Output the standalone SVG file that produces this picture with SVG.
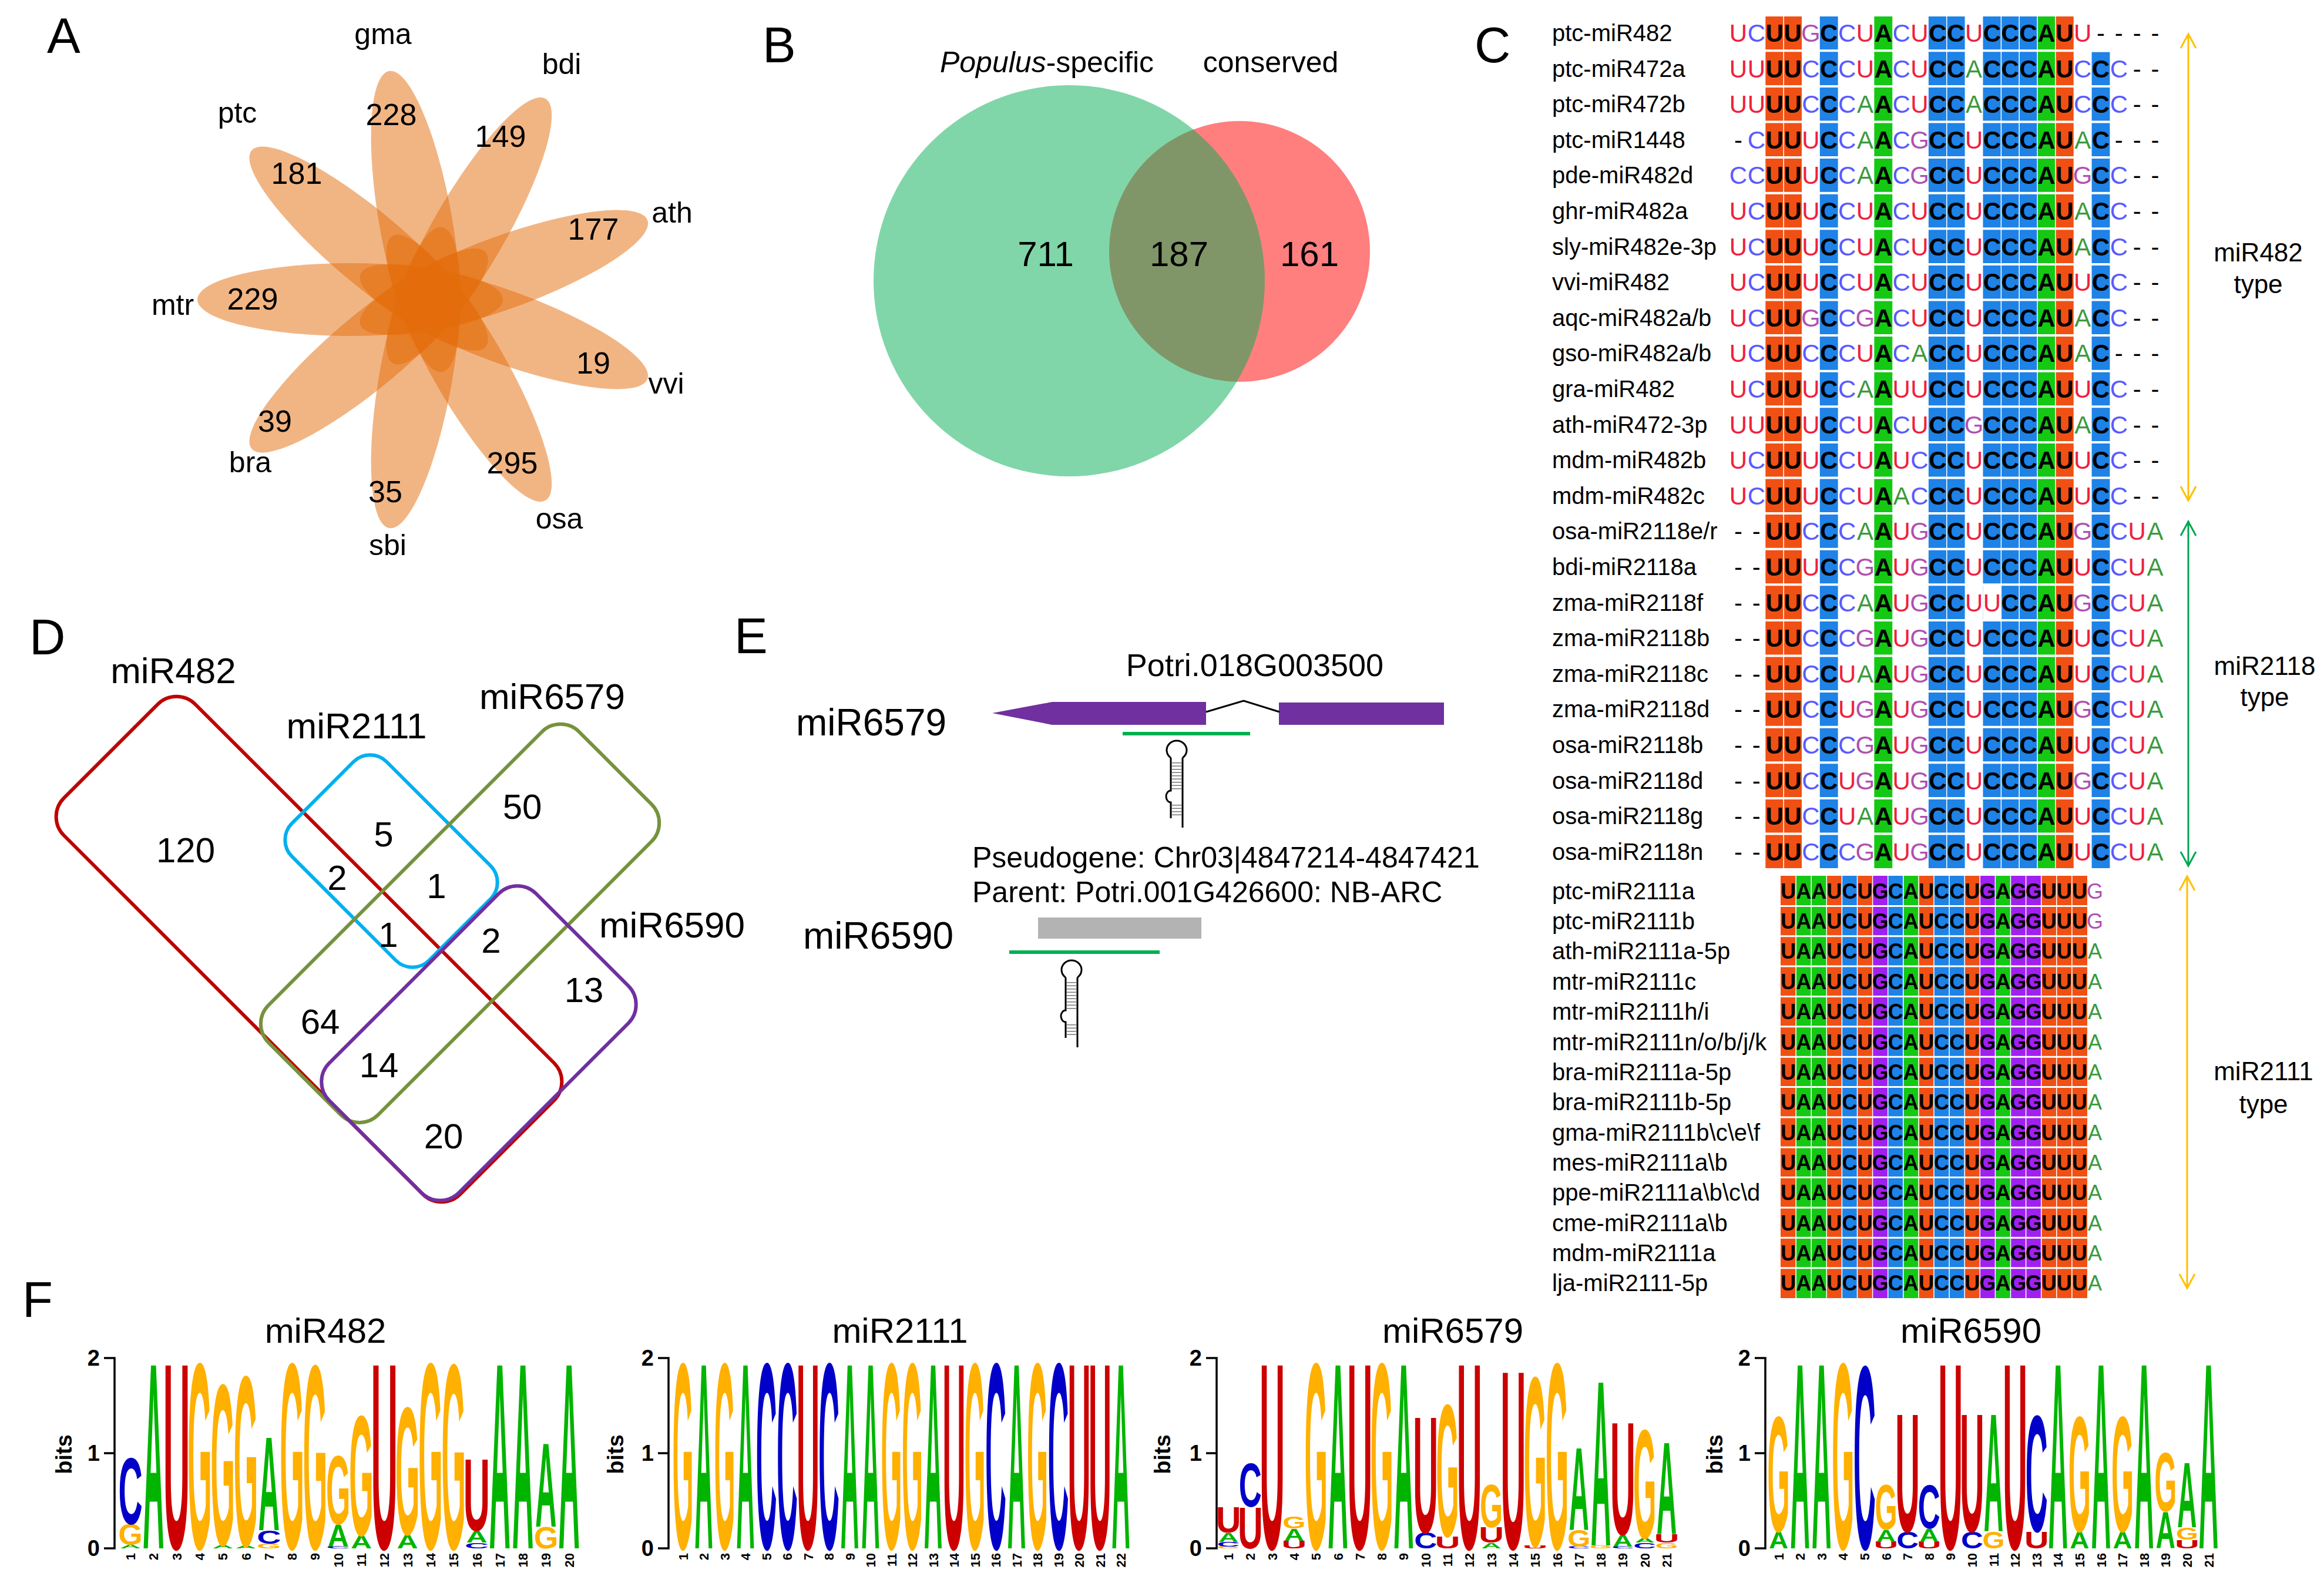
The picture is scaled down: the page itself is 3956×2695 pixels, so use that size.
<svg xmlns="http://www.w3.org/2000/svg" width="3956" height="2695" viewBox="0 0 3956 2695">
<style>
text{font-family:"Liberation Sans",Arial,sans-serif;fill:#000}
.pl{font-size:85px}
.mc{text-anchor:middle;dominant-baseline:central}
.f52{font-size:52px}.f50{font-size:50px}.f60{font-size:60px}.f62{font-size:62px}.f64{font-size:64px}.f54{font-size:54px}.f44{font-size:44px}
.lab{font-size:40px;dominant-baseline:central}
.sq{font-family:"DejaVu Sans Mono","Liberation Mono",monospace;font-size:42px;text-anchor:middle;dominant-baseline:central}
.sq2{font-family:"DejaVu Sans Mono","Liberation Mono",monospace;font-size:36px;text-anchor:middle;dominant-baseline:central}
.K{fill:#000;font-weight:bold}.u{fill:#f0203c}.c{fill:#5a5aff}.a{fill:#3c9a3c}.g{fill:#b050b0}.d{fill:#000}
.lg text{font-weight:bold;font-size:100px;text-anchor:middle}
.LA{fill:#00b400}.LC{fill:#0000c8}.LG{fill:#ffb000}.LU{fill:#cc0000}
.ax{font-size:38px;font-weight:bold;text-anchor:end;dominant-baseline:central}
.bt{font-size:38px;font-weight:bold;text-anchor:middle;dominant-baseline:central}
.pn{font-size:22px;font-weight:bold;text-anchor:end}
</style>
<defs>
<g id="hp" fill="none" stroke="#000" stroke-width="3">
<path d="M-10,12A17,16 0 1 1 10,12"/>
<path d="M-10,12V68a8,10 0 0 0 0,20V115"/>
<path d="M10,12V131"/>
<path d="M0,20V66M0,92V112" stroke="#777" stroke-width="16" stroke-dasharray="1.5 4"/>
</g>
</defs>
<rect width="3956" height="2695" fill="#fff"/>

<g id="panelA">
<text class="pl" x="80" y="90">A</text>
<g id="petals" transform="translate(731,510)" fill="#E46C0A" fill-opacity="0.5">
<ellipse cx="135" cy="0" rx="260" ry="62" transform="rotate(180)"/>
<ellipse cx="135" cy="0" rx="260" ry="62" transform="rotate(220)"/>
<ellipse cx="135" cy="0" rx="260" ry="62" transform="rotate(260)"/>
<ellipse cx="135" cy="0" rx="260" ry="62" transform="rotate(300)"/>
<ellipse cx="135" cy="0" rx="260" ry="62" transform="rotate(340)"/>
<ellipse cx="135" cy="0" rx="260" ry="62" transform="rotate(20)"/>
<ellipse cx="135" cy="0" rx="260" ry="62" transform="rotate(60)"/>
<ellipse cx="135" cy="0" rx="260" ry="62" transform="rotate(100)"/>
<ellipse cx="135" cy="0" rx="260" ry="62" transform="rotate(140)"/>
</g>
<g class="mc f52">
<text x="505" y="295">181</text><text x="666" y="195">228</text><text x="852" y="232">149</text>
<text x="1010" y="390">177</text><text x="1010" y="618">19</text><text x="872" y="788">295</text>
<text x="656" y="837">35</text><text x="468" y="717">39</text><text x="430" y="509">229</text>
</g>
<g class="mc f50">
<text x="652" y="58">gma</text><text x="956" y="109">bdi</text><text x="404" y="192">ptc</text>
<text x="1144" y="362">ath</text><text x="294" y="519">mtr</text><text x="1134" y="653">vvi</text>
<text x="426" y="787">bra</text><text x="952" y="883">osa</text><text x="660" y="928">sbi</text>
</g>
</g>

<g id="panelB">
<text class="pl" x="1298" y="106">B</text>
<circle cx="2110" cy="428" r="222" fill="#FF0000" fill-opacity="0.5"/>
<circle cx="1820" cy="478" r="333" fill="#01AD51" fill-opacity="0.5"/>
<text class="mc f50" x="1782" y="106"><tspan font-style="italic">Populus</tspan>-specific</text>
<text class="mc f50" x="2163" y="106">conserved</text>
<g class="mc f60"><text x="1780" y="432">711</text><text x="2007" y="432">187</text><text x="2229" y="432">161</text></g>
</g>

<g id="panelC">
<text class="pl" x="2510" y="106">C</text>
<g id="boxes1">
<rect x="3005.3" y="28" width="61.7" height="1450" fill="#F05014"/>
<rect x="3498.9" y="28" width="30.85" height="1450" fill="#F05014"/>
<rect x="3097.8" y="28" width="30.85" height="1450" fill="#1E82E6"/>
<rect x="3282.9" y="28" width="61.7" height="1450" fill="#1E82E6"/>
<rect x="3375.5" y="28" width="92.55" height="1450" fill="#1E82E6"/>
<rect x="3560.6" y="88.6" width="30.85" height="1389.4" fill="#1E82E6"/>
<rect x="3190.4" y="28" width="30.85" height="1450" fill="#14C814"/>
<rect x="3468" y="28" width="30.85" height="1450" fill="#14C814"/>
<rect x="3375.5" y="995.3" width="30.85" height="60.6" fill="#fff"/>
<path fill="none" stroke="#fff" stroke-width="4" d="M2995,86.3H3600M2995,146.9H3600M2995,207.5H3600M2995,268.1H3600M2995,328.7H3600M2995,389.3H3600M2995,449.9H3600M2995,510.5H3600M2995,571.1H3600M2995,631.7H3600M2995,692.3H3600M2995,752.9H3600M2995,813.5H3600M2995,874.1H3600M2995,934.7H3600M2995,995.3H3600M2995,1055.9H3600M2995,1116.5H3600M2995,1177.1H3600M2995,1237.7H3600M2995,1298.3H3600M2995,1358.9H3600M2995,1419.5H3600"/>
<path fill="none" stroke="#fff" stroke-width="1.5" d="M3036.15,28V1478M3313.8,28V1478M3406.4,28V1478M3437.2,28V1478M3468.05,28V1478M3498.9,28V1478"/>
</g>
<g id="boxes2">
<rect x="3031" y="1491" width="26.1" height="719" fill="#F05014"/>
<rect x="3057.1" y="1491" width="52.2" height="719" fill="#14C814"/>
<rect x="3109.3" y="1491" width="26.1" height="719" fill="#F05014"/>
<rect x="3135.4" y="1491" width="26.1" height="719" fill="#1E82E6"/>
<rect x="3161.5" y="1491" width="26.1" height="719" fill="#F05014"/>
<rect x="3187.6" y="1491" width="26.1" height="719" fill="#A020F0"/>
<rect x="3213.7" y="1491" width="26.1" height="719" fill="#1E82E6"/>
<rect x="3239.8" y="1491" width="26.1" height="719" fill="#14C814"/>
<rect x="3265.9" y="1491" width="26.1" height="719" fill="#F05014"/>
<rect x="3292" y="1491" width="52.2" height="719" fill="#1E82E6"/>
<rect x="3344.2" y="1491" width="26.1" height="719" fill="#F05014"/>
<rect x="3370.3" y="1491" width="26.1" height="719" fill="#A020F0"/>
<rect x="3396.4" y="1491" width="26.1" height="719" fill="#14C814"/>
<rect x="3422.5" y="1491" width="52.2" height="719" fill="#A020F0"/>
<rect x="3474.7" y="1491" width="78.3" height="719" fill="#F05014"/>
<path fill="none" stroke="#fff" stroke-width="3" d="M3028,1542.4H3556M3028,1593.7H3556M3028,1645.1H3556M3028,1696.4H3556M3028,1747.8H3556M3028,1799.2H3556M3028,1850.5H3556M3028,1901.9H3556M3028,1953.2H3556M3028,2004.6H3556M3028,2056H3556M3028,2107.3H3556M3028,2158.7H3556"/>
<path fill="none" stroke="#fff" stroke-width="1.5" d="M3057.1,1491V2210M3083.2,1491V2210M3109.3,1491V2210M3135.4,1491V2210M3161.5,1491V2210M3187.6,1491V2210M3213.7,1491V2210M3239.8,1491V2210M3265.9,1491V2210M3292,1491V2210M3318.1,1491V2210M3344.2,1491V2210M3370.3,1491V2210M3396.4,1491V2210M3422.5,1491V2210M3448.6,1491V2210M3474.7,1491V2210M3500.8,1491V2210M3526.9,1491V2210"/>
</g>
<g id="labels" class="lab">
<text x="2642" y="56">ptc-miR482</text><text x="2642" y="116.6">ptc-miR472a</text><text x="2642" y="177.2">ptc-miR472b</text><text x="2642" y="237.8">ptc-miR1448</text>
<text x="2642" y="298.4">pde-miR482d</text><text x="2642" y="359">ghr-miR482a</text><text x="2642" y="419.6">sly-miR482e-3p</text><text x="2642" y="480.2">vvi-miR482</text>
<text x="2642" y="540.8">aqc-miR482a/b</text><text x="2642" y="601.4">gso-miR482a/b</text><text x="2642" y="662">gra-miR482</text><text x="2642" y="722.6">ath-miR472-3p</text>
<text x="2642" y="783.2">mdm-miR482b</text><text x="2642" y="843.8">mdm-miR482c</text><text x="2642" y="904.4">osa-miR2118e/r</text><text x="2642" y="965">bdi-miR2118a</text>
<text x="2642" y="1025.6">zma-miR2118f</text><text x="2642" y="1086.2">zma-miR2118b</text><text x="2642" y="1146.8">zma-miR2118c</text><text x="2642" y="1207.4">zma-miR2118d</text>
<text x="2642" y="1268">osa-miR2118b</text><text x="2642" y="1328.6">osa-miR2118d</text><text x="2642" y="1389.2">osa-miR2118g</text><text x="2642" y="1449.8">osa-miR2118n</text>
<text x="2642" y="1516.7">ptc-miR2111a</text><text x="2642" y="1568.1">ptc-miR2111b</text><text x="2642" y="1619.4">ath-miR2111a-5p</text><text x="2642" y="1670.8">mtr-miR2111c</text>
<text x="2642" y="1722.1">mtr-miR2111h/i</text><text x="2642" y="1773.5">mtr-miR2111n/o/b/j/k</text><text x="2642" y="1824.9">bra-miR2111a-5p</text><text x="2642" y="1876.2">bra-miR2111b-5p</text>
<text x="2642" y="1927.6">gma-miR2111b\c\e\f</text><text x="2642" y="1978.9">mes-miR2111a\b</text><text x="2642" y="2030.3">ppe-miR2111a\b\c\d</text><text x="2642" y="2081.7">cme-miR2111a\b</text>
<text x="2642" y="2133">mdm-miR2111a</text><text x="2642" y="2184.4">lja-miR2111-5p</text>
</g>
<g id="seqs1" class="sq">
<text x="2959 2989.85 3020.7 3051.55 3082.4 3113.25 3144.1 3174.95 3205.8 3236.65 3267.5 3298.35 3329.2 3360.05 3390.9 3421.75 3452.6 3483.45 3514.3 3545.15 3576 3606.85 3637.7 3668.55" y="56"><tspan class="u">U</tspan><tspan class="c">C</tspan><tspan class="K">UU</tspan><tspan class="g">G</tspan><tspan class="K">C</tspan><tspan class="c">C</tspan><tspan class="u">U</tspan><tspan class="K">A</tspan><tspan class="c">C</tspan><tspan class="u">U</tspan><tspan class="K">CC</tspan><tspan class="u">U</tspan><tspan class="K">CCCAU</tspan><tspan class="u">U</tspan><tspan class="d">----</tspan></text>
<text x="2959 2989.85 3020.7 3051.55 3082.4 3113.25 3144.1 3174.95 3205.8 3236.65 3267.5 3298.35 3329.2 3360.05 3390.9 3421.75 3452.6 3483.45 3514.3 3545.15 3576 3606.85 3637.7 3668.55" y="116.6"><tspan class="u">UU</tspan><tspan class="K">UU</tspan><tspan class="c">C</tspan><tspan class="K">C</tspan><tspan class="c">C</tspan><tspan class="u">U</tspan><tspan class="K">A</tspan><tspan class="c">C</tspan><tspan class="u">U</tspan><tspan class="K">CC</tspan><tspan class="a">A</tspan><tspan class="K">CCCAU</tspan><tspan class="c">C</tspan><tspan class="K">C</tspan><tspan class="c">C</tspan><tspan class="d">--</tspan></text>
<text x="2959 2989.85 3020.7 3051.55 3082.4 3113.25 3144.1 3174.95 3205.8 3236.65 3267.5 3298.35 3329.2 3360.05 3390.9 3421.75 3452.6 3483.45 3514.3 3545.15 3576 3606.85 3637.7 3668.55" y="177.2"><tspan class="u">UU</tspan><tspan class="K">UU</tspan><tspan class="c">C</tspan><tspan class="K">C</tspan><tspan class="c">C</tspan><tspan class="a">A</tspan><tspan class="K">A</tspan><tspan class="c">C</tspan><tspan class="u">U</tspan><tspan class="K">CC</tspan><tspan class="a">A</tspan><tspan class="K">CCCAU</tspan><tspan class="c">C</tspan><tspan class="K">C</tspan><tspan class="c">C</tspan><tspan class="d">--</tspan></text>
<text x="2959 2989.85 3020.7 3051.55 3082.4 3113.25 3144.1 3174.95 3205.8 3236.65 3267.5 3298.35 3329.2 3360.05 3390.9 3421.75 3452.6 3483.45 3514.3 3545.15 3576 3606.85 3637.7 3668.55" y="237.8"><tspan class="d">-</tspan><tspan class="c">C</tspan><tspan class="K">UU</tspan><tspan class="u">U</tspan><tspan class="K">C</tspan><tspan class="c">C</tspan><tspan class="a">A</tspan><tspan class="K">A</tspan><tspan class="c">C</tspan><tspan class="g">G</tspan><tspan class="K">CC</tspan><tspan class="u">U</tspan><tspan class="K">CCCAU</tspan><tspan class="a">A</tspan><tspan class="K">C</tspan><tspan class="d">---</tspan></text>
<text x="2959 2989.85 3020.7 3051.55 3082.4 3113.25 3144.1 3174.95 3205.8 3236.65 3267.5 3298.35 3329.2 3360.05 3390.9 3421.75 3452.6 3483.45 3514.3 3545.15 3576 3606.85 3637.7 3668.55" y="298.4"><tspan class="c">CC</tspan><tspan class="K">UU</tspan><tspan class="u">U</tspan><tspan class="K">C</tspan><tspan class="c">C</tspan><tspan class="a">A</tspan><tspan class="K">A</tspan><tspan class="c">C</tspan><tspan class="g">G</tspan><tspan class="K">CC</tspan><tspan class="u">U</tspan><tspan class="K">CCCAU</tspan><tspan class="g">G</tspan><tspan class="K">C</tspan><tspan class="c">C</tspan><tspan class="d">--</tspan></text>
<text x="2959 2989.85 3020.7 3051.55 3082.4 3113.25 3144.1 3174.95 3205.8 3236.65 3267.5 3298.35 3329.2 3360.05 3390.9 3421.75 3452.6 3483.45 3514.3 3545.15 3576 3606.85 3637.7 3668.55" y="359"><tspan class="u">U</tspan><tspan class="c">C</tspan><tspan class="K">UU</tspan><tspan class="u">U</tspan><tspan class="K">C</tspan><tspan class="c">C</tspan><tspan class="u">U</tspan><tspan class="K">A</tspan><tspan class="c">C</tspan><tspan class="u">U</tspan><tspan class="K">CC</tspan><tspan class="u">U</tspan><tspan class="K">CCCAU</tspan><tspan class="a">A</tspan><tspan class="K">C</tspan><tspan class="c">C</tspan><tspan class="d">--</tspan></text>
<text x="2959 2989.85 3020.7 3051.55 3082.4 3113.25 3144.1 3174.95 3205.8 3236.65 3267.5 3298.35 3329.2 3360.05 3390.9 3421.75 3452.6 3483.45 3514.3 3545.15 3576 3606.85 3637.7 3668.55" y="419.6"><tspan class="u">U</tspan><tspan class="c">C</tspan><tspan class="K">UU</tspan><tspan class="u">U</tspan><tspan class="K">C</tspan><tspan class="c">C</tspan><tspan class="u">U</tspan><tspan class="K">A</tspan><tspan class="c">C</tspan><tspan class="u">U</tspan><tspan class="K">CC</tspan><tspan class="u">U</tspan><tspan class="K">CCCAU</tspan><tspan class="a">A</tspan><tspan class="K">C</tspan><tspan class="c">C</tspan><tspan class="d">--</tspan></text>
<text x="2959 2989.85 3020.7 3051.55 3082.4 3113.25 3144.1 3174.95 3205.8 3236.65 3267.5 3298.35 3329.2 3360.05 3390.9 3421.75 3452.6 3483.45 3514.3 3545.15 3576 3606.85 3637.7 3668.55" y="480.2"><tspan class="u">U</tspan><tspan class="c">C</tspan><tspan class="K">UU</tspan><tspan class="u">U</tspan><tspan class="K">C</tspan><tspan class="c">C</tspan><tspan class="u">U</tspan><tspan class="K">A</tspan><tspan class="c">C</tspan><tspan class="u">U</tspan><tspan class="K">CC</tspan><tspan class="u">U</tspan><tspan class="K">CCCAU</tspan><tspan class="u">U</tspan><tspan class="K">C</tspan><tspan class="c">C</tspan><tspan class="d">--</tspan></text>
<text x="2959 2989.85 3020.7 3051.55 3082.4 3113.25 3144.1 3174.95 3205.8 3236.65 3267.5 3298.35 3329.2 3360.05 3390.9 3421.75 3452.6 3483.45 3514.3 3545.15 3576 3606.85 3637.7 3668.55" y="540.8"><tspan class="u">U</tspan><tspan class="c">C</tspan><tspan class="K">UU</tspan><tspan class="g">G</tspan><tspan class="K">C</tspan><tspan class="c">C</tspan><tspan class="g">G</tspan><tspan class="K">A</tspan><tspan class="c">C</tspan><tspan class="u">U</tspan><tspan class="K">CC</tspan><tspan class="u">U</tspan><tspan class="K">CCCAU</tspan><tspan class="a">A</tspan><tspan class="K">C</tspan><tspan class="c">C</tspan><tspan class="d">--</tspan></text>
<text x="2959 2989.85 3020.7 3051.55 3082.4 3113.25 3144.1 3174.95 3205.8 3236.65 3267.5 3298.35 3329.2 3360.05 3390.9 3421.75 3452.6 3483.45 3514.3 3545.15 3576 3606.85 3637.7 3668.55" y="601.4"><tspan class="u">U</tspan><tspan class="c">C</tspan><tspan class="K">UU</tspan><tspan class="c">C</tspan><tspan class="K">C</tspan><tspan class="c">C</tspan><tspan class="u">U</tspan><tspan class="K">A</tspan><tspan class="c">C</tspan><tspan class="a">A</tspan><tspan class="K">CC</tspan><tspan class="u">U</tspan><tspan class="K">CCCAU</tspan><tspan class="a">A</tspan><tspan class="K">C</tspan><tspan class="d">---</tspan></text>
<text x="2959 2989.85 3020.7 3051.55 3082.4 3113.25 3144.1 3174.95 3205.8 3236.65 3267.5 3298.35 3329.2 3360.05 3390.9 3421.75 3452.6 3483.45 3514.3 3545.15 3576 3606.85 3637.7 3668.55" y="662"><tspan class="u">U</tspan><tspan class="c">C</tspan><tspan class="K">UU</tspan><tspan class="u">U</tspan><tspan class="K">C</tspan><tspan class="c">C</tspan><tspan class="a">A</tspan><tspan class="K">A</tspan><tspan class="u">UU</tspan><tspan class="K">CC</tspan><tspan class="u">U</tspan><tspan class="K">CCCAU</tspan><tspan class="u">U</tspan><tspan class="K">C</tspan><tspan class="c">C</tspan><tspan class="d">--</tspan></text>
<text x="2959 2989.85 3020.7 3051.55 3082.4 3113.25 3144.1 3174.95 3205.8 3236.65 3267.5 3298.35 3329.2 3360.05 3390.9 3421.75 3452.6 3483.45 3514.3 3545.15 3576 3606.85 3637.7 3668.55" y="722.6"><tspan class="u">UU</tspan><tspan class="K">UU</tspan><tspan class="u">U</tspan><tspan class="K">C</tspan><tspan class="c">C</tspan><tspan class="u">U</tspan><tspan class="K">A</tspan><tspan class="c">C</tspan><tspan class="u">U</tspan><tspan class="K">CC</tspan><tspan class="g">G</tspan><tspan class="K">CCCAU</tspan><tspan class="a">A</tspan><tspan class="K">C</tspan><tspan class="c">C</tspan><tspan class="d">--</tspan></text>
<text x="2959 2989.85 3020.7 3051.55 3082.4 3113.25 3144.1 3174.95 3205.8 3236.65 3267.5 3298.35 3329.2 3360.05 3390.9 3421.75 3452.6 3483.45 3514.3 3545.15 3576 3606.85 3637.7 3668.55" y="783.2"><tspan class="u">U</tspan><tspan class="c">C</tspan><tspan class="K">UU</tspan><tspan class="u">U</tspan><tspan class="K">C</tspan><tspan class="c">C</tspan><tspan class="u">U</tspan><tspan class="K">A</tspan><tspan class="u">U</tspan><tspan class="c">C</tspan><tspan class="K">CC</tspan><tspan class="u">U</tspan><tspan class="K">CCCAU</tspan><tspan class="u">U</tspan><tspan class="K">C</tspan><tspan class="c">C</tspan><tspan class="d">--</tspan></text>
<text x="2959 2989.85 3020.7 3051.55 3082.4 3113.25 3144.1 3174.95 3205.8 3236.65 3267.5 3298.35 3329.2 3360.05 3390.9 3421.75 3452.6 3483.45 3514.3 3545.15 3576 3606.85 3637.7 3668.55" y="843.8"><tspan class="u">U</tspan><tspan class="c">C</tspan><tspan class="K">UU</tspan><tspan class="u">U</tspan><tspan class="K">C</tspan><tspan class="c">C</tspan><tspan class="u">U</tspan><tspan class="K">A</tspan><tspan class="a">A</tspan><tspan class="c">C</tspan><tspan class="K">CC</tspan><tspan class="u">U</tspan><tspan class="K">CCCAU</tspan><tspan class="u">U</tspan><tspan class="K">C</tspan><tspan class="c">C</tspan><tspan class="d">--</tspan></text>
<text x="2959 2989.85 3020.7 3051.55 3082.4 3113.25 3144.1 3174.95 3205.8 3236.65 3267.5 3298.35 3329.2 3360.05 3390.9 3421.75 3452.6 3483.45 3514.3 3545.15 3576 3606.85 3637.7 3668.55" y="904.4"><tspan class="d">--</tspan><tspan class="K">UU</tspan><tspan class="c">C</tspan><tspan class="K">C</tspan><tspan class="c">C</tspan><tspan class="a">A</tspan><tspan class="K">A</tspan><tspan class="u">U</tspan><tspan class="g">G</tspan><tspan class="K">CC</tspan><tspan class="u">U</tspan><tspan class="K">CCCAU</tspan><tspan class="g">G</tspan><tspan class="K">C</tspan><tspan class="c">C</tspan><tspan class="u">U</tspan><tspan class="a">A</tspan></text>
<text x="2959 2989.85 3020.7 3051.55 3082.4 3113.25 3144.1 3174.95 3205.8 3236.65 3267.5 3298.35 3329.2 3360.05 3390.9 3421.75 3452.6 3483.45 3514.3 3545.15 3576 3606.85 3637.7 3668.55" y="965"><tspan class="d">--</tspan><tspan class="K">UU</tspan><tspan class="u">U</tspan><tspan class="K">C</tspan><tspan class="c">C</tspan><tspan class="g">G</tspan><tspan class="K">A</tspan><tspan class="u">U</tspan><tspan class="g">G</tspan><tspan class="K">CC</tspan><tspan class="u">U</tspan><tspan class="K">CCCAU</tspan><tspan class="u">U</tspan><tspan class="K">C</tspan><tspan class="c">C</tspan><tspan class="u">U</tspan><tspan class="a">A</tspan></text>
<text x="2959 2989.85 3020.7 3051.55 3082.4 3113.25 3144.1 3174.95 3205.8 3236.65 3267.5 3298.35 3329.2 3360.05 3390.9 3421.75 3452.6 3483.45 3514.3 3545.15 3576 3606.85 3637.7 3668.55" y="1025.6"><tspan class="d">--</tspan><tspan class="K">UU</tspan><tspan class="c">C</tspan><tspan class="K">C</tspan><tspan class="c">C</tspan><tspan class="a">A</tspan><tspan class="K">A</tspan><tspan class="u">U</tspan><tspan class="g">G</tspan><tspan class="K">CC</tspan><tspan class="u">UU</tspan><tspan class="K">CCAU</tspan><tspan class="g">G</tspan><tspan class="K">C</tspan><tspan class="c">C</tspan><tspan class="u">U</tspan><tspan class="a">A</tspan></text>
<text x="2959 2989.85 3020.7 3051.55 3082.4 3113.25 3144.1 3174.95 3205.8 3236.65 3267.5 3298.35 3329.2 3360.05 3390.9 3421.75 3452.6 3483.45 3514.3 3545.15 3576 3606.85 3637.7 3668.55" y="1086.2"><tspan class="d">--</tspan><tspan class="K">UU</tspan><tspan class="c">C</tspan><tspan class="K">C</tspan><tspan class="c">C</tspan><tspan class="g">G</tspan><tspan class="K">A</tspan><tspan class="u">U</tspan><tspan class="g">G</tspan><tspan class="K">CC</tspan><tspan class="u">U</tspan><tspan class="K">CCCAU</tspan><tspan class="u">U</tspan><tspan class="K">C</tspan><tspan class="c">C</tspan><tspan class="u">U</tspan><tspan class="a">A</tspan></text>
<text x="2959 2989.85 3020.7 3051.55 3082.4 3113.25 3144.1 3174.95 3205.8 3236.65 3267.5 3298.35 3329.2 3360.05 3390.9 3421.75 3452.6 3483.45 3514.3 3545.15 3576 3606.85 3637.7 3668.55" y="1146.8"><tspan class="d">--</tspan><tspan class="K">UU</tspan><tspan class="c">C</tspan><tspan class="K">C</tspan><tspan class="u">U</tspan><tspan class="a">A</tspan><tspan class="K">A</tspan><tspan class="u">U</tspan><tspan class="g">G</tspan><tspan class="K">CC</tspan><tspan class="u">U</tspan><tspan class="K">CCCAU</tspan><tspan class="u">U</tspan><tspan class="K">C</tspan><tspan class="c">C</tspan><tspan class="u">U</tspan><tspan class="a">A</tspan></text>
<text x="2959 2989.85 3020.7 3051.55 3082.4 3113.25 3144.1 3174.95 3205.8 3236.65 3267.5 3298.35 3329.2 3360.05 3390.9 3421.75 3452.6 3483.45 3514.3 3545.15 3576 3606.85 3637.7 3668.55" y="1207.4"><tspan class="d">--</tspan><tspan class="K">UU</tspan><tspan class="c">C</tspan><tspan class="K">C</tspan><tspan class="u">U</tspan><tspan class="g">G</tspan><tspan class="K">A</tspan><tspan class="u">U</tspan><tspan class="g">G</tspan><tspan class="K">CC</tspan><tspan class="u">U</tspan><tspan class="K">CCCAU</tspan><tspan class="g">G</tspan><tspan class="K">C</tspan><tspan class="c">C</tspan><tspan class="u">U</tspan><tspan class="a">A</tspan></text>
<text x="2959 2989.85 3020.7 3051.55 3082.4 3113.25 3144.1 3174.95 3205.8 3236.65 3267.5 3298.35 3329.2 3360.05 3390.9 3421.75 3452.6 3483.45 3514.3 3545.15 3576 3606.85 3637.7 3668.55" y="1268"><tspan class="d">--</tspan><tspan class="K">UU</tspan><tspan class="c">C</tspan><tspan class="K">C</tspan><tspan class="c">C</tspan><tspan class="g">G</tspan><tspan class="K">A</tspan><tspan class="u">U</tspan><tspan class="g">G</tspan><tspan class="K">CC</tspan><tspan class="u">U</tspan><tspan class="K">CCCAU</tspan><tspan class="u">U</tspan><tspan class="K">C</tspan><tspan class="c">C</tspan><tspan class="u">U</tspan><tspan class="a">A</tspan></text>
<text x="2959 2989.85 3020.7 3051.55 3082.4 3113.25 3144.1 3174.95 3205.8 3236.65 3267.5 3298.35 3329.2 3360.05 3390.9 3421.75 3452.6 3483.45 3514.3 3545.15 3576 3606.85 3637.7 3668.55" y="1328.6"><tspan class="d">--</tspan><tspan class="K">UU</tspan><tspan class="c">C</tspan><tspan class="K">C</tspan><tspan class="u">U</tspan><tspan class="g">G</tspan><tspan class="K">A</tspan><tspan class="u">U</tspan><tspan class="g">G</tspan><tspan class="K">CC</tspan><tspan class="u">U</tspan><tspan class="K">CCCAU</tspan><tspan class="g">G</tspan><tspan class="K">C</tspan><tspan class="c">C</tspan><tspan class="u">U</tspan><tspan class="a">A</tspan></text>
<text x="2959 2989.85 3020.7 3051.55 3082.4 3113.25 3144.1 3174.95 3205.8 3236.65 3267.5 3298.35 3329.2 3360.05 3390.9 3421.75 3452.6 3483.45 3514.3 3545.15 3576 3606.85 3637.7 3668.55" y="1389.2"><tspan class="d">--</tspan><tspan class="K">UU</tspan><tspan class="c">C</tspan><tspan class="K">C</tspan><tspan class="u">U</tspan><tspan class="a">A</tspan><tspan class="K">A</tspan><tspan class="u">U</tspan><tspan class="g">G</tspan><tspan class="K">CC</tspan><tspan class="u">U</tspan><tspan class="K">CCCAU</tspan><tspan class="u">U</tspan><tspan class="K">C</tspan><tspan class="c">C</tspan><tspan class="u">U</tspan><tspan class="a">A</tspan></text>
<text x="2959 2989.85 3020.7 3051.55 3082.4 3113.25 3144.1 3174.95 3205.8 3236.65 3267.5 3298.35 3329.2 3360.05 3390.9 3421.75 3452.6 3483.45 3514.3 3545.15 3576 3606.85 3637.7 3668.55" y="1449.8"><tspan class="d">--</tspan><tspan class="K">UU</tspan><tspan class="c">C</tspan><tspan class="K">C</tspan><tspan class="c">C</tspan><tspan class="g">G</tspan><tspan class="K">A</tspan><tspan class="u">U</tspan><tspan class="g">G</tspan><tspan class="K">CC</tspan><tspan class="u">U</tspan><tspan class="K">CCCAU</tspan><tspan class="u">U</tspan><tspan class="K">C</tspan><tspan class="c">C</tspan><tspan class="u">U</tspan><tspan class="a">A</tspan></text>
</g>
<g id="seqs2" class="sq2">
<text x="3044.05 3070.15 3096.25 3122.35 3148.45 3174.55 3200.65 3226.75 3252.85 3278.95 3305.05 3331.15 3357.25 3383.35 3409.45 3435.55 3461.65 3487.75 3513.85 3539.95 3566.05" y="1516.7"><tspan class="K">UAAUCUGCAUCCUGAGGUUU</tspan><tspan class="g">G</tspan></text>
<text x="3044.05 3070.15 3096.25 3122.35 3148.45 3174.55 3200.65 3226.75 3252.85 3278.95 3305.05 3331.15 3357.25 3383.35 3409.45 3435.55 3461.65 3487.75 3513.85 3539.95 3566.05" y="1568.1"><tspan class="K">UAAUCUGCAUCCUGAGGUUU</tspan><tspan class="g">G</tspan></text>
<text x="3044.05 3070.15 3096.25 3122.35 3148.45 3174.55 3200.65 3226.75 3252.85 3278.95 3305.05 3331.15 3357.25 3383.35 3409.45 3435.55 3461.65 3487.75 3513.85 3539.95 3566.05" y="1619.4"><tspan class="K">UAAUCUGCAUCCUGAGGUUU</tspan><tspan class="a">A</tspan></text>
<text x="3044.05 3070.15 3096.25 3122.35 3148.45 3174.55 3200.65 3226.75 3252.85 3278.95 3305.05 3331.15 3357.25 3383.35 3409.45 3435.55 3461.65 3487.75 3513.85 3539.95 3566.05" y="1670.8"><tspan class="K">UAAUCUGCAUCCUGAGGUUU</tspan><tspan class="a">A</tspan></text>
<text x="3044.05 3070.15 3096.25 3122.35 3148.45 3174.55 3200.65 3226.75 3252.85 3278.95 3305.05 3331.15 3357.25 3383.35 3409.45 3435.55 3461.65 3487.75 3513.85 3539.95 3566.05" y="1722.1"><tspan class="K">UAAUCUGCAUCCUGAGGUUU</tspan><tspan class="a">A</tspan></text>
<text x="3044.05 3070.15 3096.25 3122.35 3148.45 3174.55 3200.65 3226.75 3252.85 3278.95 3305.05 3331.15 3357.25 3383.35 3409.45 3435.55 3461.65 3487.75 3513.85 3539.95 3566.05" y="1773.5"><tspan class="K">UAAUCUGCAUCCUGAGGUUU</tspan><tspan class="a">A</tspan></text>
<text x="3044.05 3070.15 3096.25 3122.35 3148.45 3174.55 3200.65 3226.75 3252.85 3278.95 3305.05 3331.15 3357.25 3383.35 3409.45 3435.55 3461.65 3487.75 3513.85 3539.95 3566.05" y="1824.9"><tspan class="K">UAAUCUGCAUCCUGAGGUUU</tspan><tspan class="a">A</tspan></text>
<text x="3044.05 3070.15 3096.25 3122.35 3148.45 3174.55 3200.65 3226.75 3252.85 3278.95 3305.05 3331.15 3357.25 3383.35 3409.45 3435.55 3461.65 3487.75 3513.85 3539.95 3566.05" y="1876.2"><tspan class="K">UAAUCUGCAUCCUGAGGUUU</tspan><tspan class="a">A</tspan></text>
<text x="3044.05 3070.15 3096.25 3122.35 3148.45 3174.55 3200.65 3226.75 3252.85 3278.95 3305.05 3331.15 3357.25 3383.35 3409.45 3435.55 3461.65 3487.75 3513.85 3539.95 3566.05" y="1927.6"><tspan class="K">UAAUCUGCAUCCUGAGGUUU</tspan><tspan class="a">A</tspan></text>
<text x="3044.05 3070.15 3096.25 3122.35 3148.45 3174.55 3200.65 3226.75 3252.85 3278.95 3305.05 3331.15 3357.25 3383.35 3409.45 3435.55 3461.65 3487.75 3513.85 3539.95 3566.05" y="1978.9"><tspan class="K">UAAUCUGCAUCCUGAGGUUU</tspan><tspan class="a">A</tspan></text>
<text x="3044.05 3070.15 3096.25 3122.35 3148.45 3174.55 3200.65 3226.75 3252.85 3278.95 3305.05 3331.15 3357.25 3383.35 3409.45 3435.55 3461.65 3487.75 3513.85 3539.95 3566.05" y="2030.3"><tspan class="K">UAAUCUGCAUCCUGAGGUUU</tspan><tspan class="a">A</tspan></text>
<text x="3044.05 3070.15 3096.25 3122.35 3148.45 3174.55 3200.65 3226.75 3252.85 3278.95 3305.05 3331.15 3357.25 3383.35 3409.45 3435.55 3461.65 3487.75 3513.85 3539.95 3566.05" y="2081.7"><tspan class="K">UAAUCUGCAUCCUGAGGUUU</tspan><tspan class="a">A</tspan></text>
<text x="3044.05 3070.15 3096.25 3122.35 3148.45 3174.55 3200.65 3226.75 3252.85 3278.95 3305.05 3331.15 3357.25 3383.35 3409.45 3435.55 3461.65 3487.75 3513.85 3539.95 3566.05" y="2133"><tspan class="K">UAAUCUGCAUCCUGAGGUUU</tspan><tspan class="a">A</tspan></text>
<text x="3044.05 3070.15 3096.25 3122.35 3148.45 3174.55 3200.65 3226.75 3252.85 3278.95 3305.05 3331.15 3357.25 3383.35 3409.45 3435.55 3461.65 3487.75 3513.85 3539.95 3566.05" y="2184.4"><tspan class="K">UAAUCUGCAUCCUGAGGUUU</tspan><tspan class="a">A</tspan></text>
</g>
<g id="typeArrows" fill="none" stroke-width="3">
<path stroke="#FFC000" d="M3725,58V852M3712,82L3725,58L3738,82M3712,828L3725,852L3738,828"/>
<path stroke="#00A651" d="M3725,888V1474M3712,912L3725,888L3738,912M3712,1450L3725,1474L3738,1450"/>
<path stroke="#FFC000" d="M3723,1492V2193M3710,1516L3723,1492L3736,1516M3710,2169L3723,2193L3736,2169"/>
</g>
<g class="mc f44">
<text x="3844" y="429">miR482</text><text x="3844" y="483">type</text>
<text x="3855" y="1133">miR2118</text><text x="3855" y="1186">type</text>
<text x="3853" y="1823">miR2111</text><text x="3853" y="1879">type</text>
</g>
</g>

<g id="panelD">
<text class="pl" x="50" y="1114">D</text>
<g fill="none" stroke-width="6">
<rect id="setR" x="-477" y="-158" width="954" height="316" rx="45" stroke="#C00000" transform="translate(526,1616) rotate(45)"/>
<rect id="setB" x="-165" y="-114" width="330" height="228" rx="40" stroke="#00B0F0" transform="translate(666,1466) rotate(45)"/>
<rect id="setG" x="-374" y="-132" width="748" height="264" rx="45" stroke="#76923C" transform="translate(783,1572) rotate(-45)"/>
<rect id="setP" x="-249" y="-156" width="498" height="312" rx="45" stroke="#7030A0" transform="translate(815,1776) rotate(-45)"/>
</g>
<g class="mc f62">
<text x="295" y="1141">miR482</text><text x="607" y="1235">miR2111</text><text x="940" y="1185">miR6579</text><text x="1144" y="1574">miR6590</text>
</g>
<g class="mc f60">
<text x="316" y="1447">120</text><text x="653" y="1420">5</text><text x="889" y="1373">50</text><text x="574" y="1494">2</text>
<text x="743" y="1508">1</text><text x="661" y="1591">1</text><text x="836" y="1601">2</text><text x="994" y="1685">13</text>
<text x="545" y="1739">64</text><text x="645" y="1813">14</text><text x="755" y="1934">20</text>
</g>
</g>

<g id="panelE">
<text class="pl" x="1250" y="1112">E</text>
<text class="mc f54" x="2136" y="1132">Potri.018G003500</text>
<text class="mc f64" x="1483" y="1230">miR6579</text>
<polygon points="1689,1214 1791,1195 2053,1195 2053,1234 1791,1234" fill="#7030A0"/>
<rect x="2177" y="1196" width="281" height="38" fill="#7030A0"/>
<polyline points="2053,1212 2117,1193 2178,1212" fill="none" stroke="#000" stroke-width="3"/>
<line x1="1911" y1="1249" x2="2128" y2="1249" stroke="#00B050" stroke-width="6"/>
<use href="#hp" x="2003" y="1278"/>
<text class="f50" x="1655" y="1460" dominant-baseline="central">Pseudogene: Chr03|4847214-4847421</text>
<text class="f50" x="1655" y="1519" dominant-baseline="central">Parent: Potri.001G426600: NB-ARC</text>
<text class="mc f64" x="1495" y="1593">miR6590</text>
<rect x="1767" y="1562" width="278" height="36" fill="#B3B3B3"/>
<line x1="1718" y1="1621" x2="1974" y2="1621" stroke="#00B050" stroke-width="6"/>
<use href="#hp" x="1824" y="1652"/>
</g>

<g id="panelF">
<text class="pl" x="38" y="2242">F</text>
<g class="mc f60">
<text x="554" y="2265">miR482</text><text x="1532" y="2265">miR2111</text><text x="2473" y="2265">miR6579</text><text x="3355" y="2265">miR6590</text>
</g>
<path fill="none" stroke="#000" stroke-width="3.5" d="M177,2312H195V2636H177M177,2474H195M1120,2312H1138V2636H1120M1120,2474H1138M2053,2312H2071V2636H2053M2053,2474H2071M2987,2312H3005V2636H2987M2987,2474H3005"/>
<text class="ax" x="170" y="2312">2</text><text class="ax" x="170" y="2474">1</text><text class="ax" x="170" y="2636">0</text>
<text class="ax" x="1113" y="2312">2</text><text class="ax" x="1113" y="2474">1</text><text class="ax" x="1113" y="2636">0</text>
<text class="ax" x="2046" y="2312">2</text><text class="ax" x="2046" y="2474">1</text><text class="ax" x="2046" y="2636">0</text>
<text class="ax" x="2980" y="2312">2</text><text class="ax" x="2980" y="2474">1</text><text class="ax" x="2980" y="2636">0</text>
<text class="bt" transform="translate(109,2476) rotate(-90)">bits</text>
<text class="bt" transform="translate(1048,2476) rotate(-90)">bits</text>
<text class="bt" transform="translate(1979,2476) rotate(-90)">bits</text>
<text class="bt" transform="translate(2919,2476) rotate(-90)">bits</text>

<g id="logo1" class="lg">
<text class="LA" transform="translate(222,2636) scale(.5,.09)">A</text>
<text class="LG" transform="translate(222,2629.5) scale(.533,.498)">G</text>
<text class="LC" transform="translate(222,2593.9) scale(.571,1.606)">C</text>
<text class="LA" transform="translate(261.3,2636) scale(.5,4.525)">A</text>
<text class="LU" transform="translate(300.6,2636) scale(.627,4.525)">U</text>
<text class="LG" transform="translate(339.9,2636) scale(.533,4.525)">G</text>
<text class="LA" transform="translate(379.2,2636) scale(.5,.09)">A</text>
<text class="LG" transform="translate(379.2,2629.5) scale(.533,3.914)">G</text>
<text class="LA" transform="translate(418.5,2636) scale(.5,.068)">A</text>
<text class="LG" transform="translate(418.5,2631.1) scale(.533,4.141)">G</text>
<text class="LG" transform="translate(457.8,2636) scale(.533,.113)">G</text>
<text class="LC" transform="translate(457.8,2627.9) scale(.571,.317)">C</text>
<text class="LA" transform="translate(457.8,2605.2) scale(.5,2.285)">A</text>
<text class="LG" transform="translate(497.1,2636) scale(.533,4.525)">G</text>
<text class="LG" transform="translate(536.4,2636) scale(.533,4.48)">G</text>
<text class="LC" transform="translate(575.7,2636) scale(.571,.045)">C</text>
<text class="LA" transform="translate(575.7,2632.8) scale(.5,.543)">A</text>
<text class="LG" transform="translate(575.7,2593.9) scale(.533,1.674)">G</text>
<text class="LA" transform="translate(615,2636) scale(.5,.317)">A</text>
<text class="LG" transform="translate(615,2613.3) scale(.533,2.919)">G</text>
<text class="LU" transform="translate(654.3,2636) scale(.627,4.525)">U</text>
<text class="LA" transform="translate(693.6,2636) scale(.5,.339)">A</text>
<text class="LG" transform="translate(693.6,2611.7) scale(.533,3.1)">G</text>
<text class="LG" transform="translate(732.9,2636) scale(.533,4.525)">G</text>
<text class="LG" transform="translate(772.2,2636) scale(.533,4.5)">G</text>
<text class="LC" transform="translate(811.5,2636) scale(.571,.136)">C</text>
<text class="LA" transform="translate(811.5,2626.3) scale(.5,.294)">A</text>
<text class="LU" transform="translate(811.5,2605.2) scale(.627,1.742)">U</text>
<text class="LA" transform="translate(850.8,2636) scale(.5,4.525)">A</text>
<text class="LA" transform="translate(890.1,2636) scale(.5,4.525)">A</text>
<text class="LG" transform="translate(929.4,2636) scale(.533,.52)">G</text>
<text class="LA" transform="translate(929.4,2598.7) scale(.5,2.036)">A</text>
<text class="LA" transform="translate(968.7,2636) scale(.5,4.525)">A</text>
</g>
<g id="logo2" class="lg">
<text class="LG" transform="translate(1162.5,2636) scale(.459,4.525)">G</text>
<text class="LA" transform="translate(1198,2636) scale(.431,4.525)">A</text>
<text class="LG" transform="translate(1233.5,2636) scale(.459,4.525)">G</text>
<text class="LA" transform="translate(1269,2636) scale(.431,4.525)">A</text>
<text class="LC" transform="translate(1304.5,2636) scale(.492,4.525)">C</text>
<text class="LC" transform="translate(1340,2636) scale(.492,4.525)">C</text>
<text class="LU" transform="translate(1375.5,2636) scale(.54,4.525)">U</text>
<text class="LC" transform="translate(1411,2636) scale(.492,4.525)">C</text>
<text class="LA" transform="translate(1446.5,2636) scale(.431,4.525)">A</text>
<text class="LA" transform="translate(1482,2636) scale(.431,4.525)">A</text>
<text class="LG" transform="translate(1517.5,2636) scale(.459,4.525)">G</text>
<text class="LG" transform="translate(1553,2636) scale(.459,4.525)">G</text>
<text class="LA" transform="translate(1588.5,2636) scale(.431,4.525)">A</text>
<text class="LU" transform="translate(1624,2636) scale(.54,4.525)">U</text>
<text class="LG" transform="translate(1659.5,2636) scale(.459,4.525)">G</text>
<text class="LC" transform="translate(1695,2636) scale(.492,4.525)">C</text>
<text class="LA" transform="translate(1730.5,2636) scale(.431,4.525)">A</text>
<text class="LG" transform="translate(1766,2636) scale(.459,4.525)">G</text>
<text class="LC" transform="translate(1801.5,2636) scale(.492,4.525)">C</text>
<text class="LU" transform="translate(1837,2636) scale(.54,4.525)">U</text>
<text class="LU" transform="translate(1872.5,2636) scale(.54,4.525)">U</text>
<text class="LA" transform="translate(1908,2636) scale(.431,4.525)">A</text>
</g>
<g id="logo3" class="lg">
<text class="LG" transform="translate(2091,2636) scale(.504,.045)">G</text>
<text class="LC" transform="translate(2091,2632.8) scale(.54,.113)">C</text>
<text class="LA" transform="translate(2091,2624.7) scale(.472,.226)">A</text>
<text class="LU" transform="translate(2091,2608.5) scale(.592,.634)">U</text>
<text class="LU" transform="translate(2128.3,2636) scale(.592,.996)">U</text>
<text class="LC" transform="translate(2128.3,2564.7) scale(.54,1.063)">C</text>
<text class="LU" transform="translate(2165.6,2636) scale(.592,4.525)">U</text>
<text class="LU" transform="translate(2202.9,2636) scale(.592,.181)">U</text>
<text class="LA" transform="translate(2202.9,2623) scale(.472,.294)">A</text>
<text class="LG" transform="translate(2202.9,2601.9) scale(.504,.294)">G</text>
<text class="LG" transform="translate(2240.2,2636) scale(.504,4.525)">G</text>
<text class="LA" transform="translate(2277.5,2636) scale(.472,4.525)">A</text>
<text class="LU" transform="translate(2314.8,2636) scale(.592,4.525)">U</text>
<text class="LG" transform="translate(2352.1,2636) scale(.504,4.525)">G</text>
<text class="LA" transform="translate(2389.4,2636) scale(.472,4.525)">A</text>
<text class="LC" transform="translate(2426.7,2636) scale(.54,.385)">C</text>
<text class="LU" transform="translate(2426.7,2608.5) scale(.592,2.828)">U</text>
<text class="LU" transform="translate(2464,2636) scale(.592,.294)">U</text>
<text class="LG" transform="translate(2464,2614.9) scale(.504,3.213)">G</text>
<text class="LU" transform="translate(2501.3,2636) scale(.592,4.525)">U</text>
<text class="LA" transform="translate(2538.6,2636) scale(.472,.136)">A</text>
<text class="LU" transform="translate(2538.6,2626.3) scale(.592,.362)">U</text>
<text class="LG" transform="translate(2538.6,2600.4) scale(.504,1.041)">G</text>
<text class="LU" transform="translate(2575.9,2636) scale(.592,4.344)">U</text>
<text class="LU" transform="translate(2613.2,2636) scale(.592,.068)">U</text>
<text class="LG" transform="translate(2613.2,2631.1) scale(.504,4.118)">G</text>
<text class="LG" transform="translate(2650.5,2636) scale(.504,4.525)">G</text>
<text class="LC" transform="translate(2687.8,2636) scale(.54,.045)">C</text>
<text class="LG" transform="translate(2687.8,2632.8) scale(.504,.407)">G</text>
<text class="LA" transform="translate(2687.8,2603.6) scale(.472,2.014)">A</text>
<text class="LG" transform="translate(2725.1,2636) scale(.504,.068)">G</text>
<text class="LA" transform="translate(2725.1,2631.1) scale(.472,4.027)">A</text>
<text class="LC" transform="translate(2762.4,2636) scale(.54,.045)">C</text>
<text class="LA" transform="translate(2762.4,2632.8) scale(.472,.294)">A</text>
<text class="LU" transform="translate(2762.4,2611.7) scale(.592,2.738)">U</text>
<text class="LC" transform="translate(2799.7,2636) scale(.54,.136)">C</text>
<text class="LA" transform="translate(2799.7,2626.3) scale(.472,.113)">A</text>
<text class="LG" transform="translate(2799.7,2618.2) scale(.504,2.647)">G</text>
<text class="LG" transform="translate(2837,2636) scale(.504,.136)">G</text>
<text class="LU" transform="translate(2837,2626.3) scale(.592,.204)">U</text>
<text class="LA" transform="translate(2837,2611.7) scale(.472,2.24)">A</text>
</g>
<g id="logo4" class="lg">
<text class="LA" transform="translate(3027.5,2636) scale(.458,.407)">A</text>
<text class="LG" transform="translate(3027.5,2606.8) scale(.489,2.806)">G</text>
<text class="LA" transform="translate(3064.1,2636) scale(.458,4.525)">A</text>
<text class="LA" transform="translate(3100.7,2636) scale(.458,4.525)">A</text>
<text class="LG" transform="translate(3137.3,2636) scale(.489,4.525)">G</text>
<text class="LC" transform="translate(3173.9,2636) scale(.524,4.457)">C</text>
<text class="LU" transform="translate(3210.5,2636) scale(.575,.158)">U</text>
<text class="LA" transform="translate(3210.5,2624.7) scale(.458,.294)">A</text>
<text class="LG" transform="translate(3210.5,2603.6) scale(.489,1.086)">G</text>
<text class="LC" transform="translate(3247.1,2636) scale(.524,.407)">C</text>
<text class="LU" transform="translate(3247.1,2606.8) scale(.575,2.874)">U</text>
<text class="LU" transform="translate(3283.7,2636) scale(.575,.158)">U</text>
<text class="LA" transform="translate(3283.7,2624.7) scale(.458,.317)">A</text>
<text class="LC" transform="translate(3283.7,2602) scale(.524,1.063)">C</text>
<text class="LU" transform="translate(3320.3,2636) scale(.575,4.525)">U</text>
<text class="LC" transform="translate(3356.9,2636) scale(.524,.407)">C</text>
<text class="LU" transform="translate(3356.9,2606.8) scale(.575,2.874)">U</text>
<text class="LG" transform="translate(3393.5,2636) scale(.489,.407)">G</text>
<text class="LA" transform="translate(3393.5,2606.8) scale(.458,2.874)">A</text>
<text class="LU" transform="translate(3430.1,2636) scale(.575,4.525)">U</text>
<text class="LU" transform="translate(3466.7,2636) scale(.575,.407)">U</text>
<text class="LC" transform="translate(3466.7,2606.8) scale(.524,2.828)">C</text>
<text class="LA" transform="translate(3503.3,2636) scale(.458,4.525)">A</text>
<text class="LA" transform="translate(3539.9,2636) scale(.458,.407)">A</text>
<text class="LG" transform="translate(3539.9,2606.8) scale(.489,2.806)">G</text>
<text class="LA" transform="translate(3576.5,2636) scale(.458,4.525)">A</text>
<text class="LA" transform="translate(3613.1,2636) scale(.458,.407)">A</text>
<text class="LG" transform="translate(3613.1,2606.8) scale(.489,2.806)">G</text>
<text class="LA" transform="translate(3649.7,2636) scale(.458,4.525)">A</text>
<text class="LA" transform="translate(3686.3,2636) scale(.458,.882)">A</text>
<text class="LG" transform="translate(3686.3,2572.8) scale(.489,1.425)">G</text>
<text class="LU" transform="translate(3722.9,2636) scale(.575,.204)">U</text>
<text class="LG" transform="translate(3722.9,2621.4) scale(.489,.294)">G</text>
<text class="LA" transform="translate(3722.9,2600.3) scale(.458,1.584)">A</text>
<text class="LA" transform="translate(3759.5,2636) scale(.458,4.525)">A</text>
</g>
<g id="posnums">
<text class="pn" transform="translate(230,2644) rotate(-90)">1</text><text class="pn" transform="translate(269.3,2644) rotate(-90)">2</text><text class="pn" transform="translate(308.6,2644) rotate(-90)">3</text><text class="pn" transform="translate(347.9,2644) rotate(-90)">4</text><text class="pn" transform="translate(387.2,2644) rotate(-90)">5</text><text class="pn" transform="translate(426.5,2644) rotate(-90)">6</text><text class="pn" transform="translate(465.8,2644) rotate(-90)">7</text><text class="pn" transform="translate(505.1,2644) rotate(-90)">8</text><text class="pn" transform="translate(544.4,2644) rotate(-90)">9</text><text class="pn" transform="translate(583.7,2644) rotate(-90)">10</text>
<text class="pn" transform="translate(623,2644) rotate(-90)">11</text><text class="pn" transform="translate(662.3,2644) rotate(-90)">12</text><text class="pn" transform="translate(701.6,2644) rotate(-90)">13</text><text class="pn" transform="translate(740.9,2644) rotate(-90)">14</text><text class="pn" transform="translate(780.2,2644) rotate(-90)">15</text><text class="pn" transform="translate(819.5,2644) rotate(-90)">16</text><text class="pn" transform="translate(858.8,2644) rotate(-90)">17</text><text class="pn" transform="translate(898.1,2644) rotate(-90)">18</text><text class="pn" transform="translate(937.4,2644) rotate(-90)">19</text><text class="pn" transform="translate(976.7,2644) rotate(-90)">20</text>
<text class="pn" transform="translate(1170.5,2644) rotate(-90)">1</text><text class="pn" transform="translate(1206,2644) rotate(-90)">2</text><text class="pn" transform="translate(1241.5,2644) rotate(-90)">3</text><text class="pn" transform="translate(1277,2644) rotate(-90)">4</text><text class="pn" transform="translate(1312.5,2644) rotate(-90)">5</text><text class="pn" transform="translate(1348,2644) rotate(-90)">6</text><text class="pn" transform="translate(1383.5,2644) rotate(-90)">7</text><text class="pn" transform="translate(1419,2644) rotate(-90)">8</text><text class="pn" transform="translate(1454.5,2644) rotate(-90)">9</text><text class="pn" transform="translate(1490,2644) rotate(-90)">10</text><text class="pn" transform="translate(1525.5,2644) rotate(-90)">11</text>
<text class="pn" transform="translate(1561,2644) rotate(-90)">12</text><text class="pn" transform="translate(1596.5,2644) rotate(-90)">13</text><text class="pn" transform="translate(1632,2644) rotate(-90)">14</text><text class="pn" transform="translate(1667.5,2644) rotate(-90)">15</text><text class="pn" transform="translate(1703,2644) rotate(-90)">16</text><text class="pn" transform="translate(1738.5,2644) rotate(-90)">17</text><text class="pn" transform="translate(1774,2644) rotate(-90)">18</text><text class="pn" transform="translate(1809.5,2644) rotate(-90)">19</text><text class="pn" transform="translate(1845,2644) rotate(-90)">20</text><text class="pn" transform="translate(1880.5,2644) rotate(-90)">21</text><text class="pn" transform="translate(1916,2644) rotate(-90)">22</text>
<text class="pn" transform="translate(2099,2644) rotate(-90)">1</text><text class="pn" transform="translate(2136.3,2644) rotate(-90)">2</text><text class="pn" transform="translate(2173.6,2644) rotate(-90)">3</text><text class="pn" transform="translate(2210.9,2644) rotate(-90)">4</text><text class="pn" transform="translate(2248.2,2644) rotate(-90)">5</text><text class="pn" transform="translate(2285.5,2644) rotate(-90)">6</text><text class="pn" transform="translate(2322.8,2644) rotate(-90)">7</text><text class="pn" transform="translate(2360.1,2644) rotate(-90)">8</text><text class="pn" transform="translate(2397.4,2644) rotate(-90)">9</text><text class="pn" transform="translate(2434.7,2644) rotate(-90)">10</text><text class="pn" transform="translate(2472,2644) rotate(-90)">11</text>
<text class="pn" transform="translate(2509.3,2644) rotate(-90)">12</text><text class="pn" transform="translate(2546.6,2644) rotate(-90)">13</text><text class="pn" transform="translate(2583.9,2644) rotate(-90)">14</text><text class="pn" transform="translate(2621.2,2644) rotate(-90)">15</text><text class="pn" transform="translate(2658.5,2644) rotate(-90)">16</text><text class="pn" transform="translate(2695.8,2644) rotate(-90)">17</text><text class="pn" transform="translate(2733.1,2644) rotate(-90)">18</text><text class="pn" transform="translate(2770.4,2644) rotate(-90)">19</text><text class="pn" transform="translate(2807.7,2644) rotate(-90)">20</text><text class="pn" transform="translate(2845,2644) rotate(-90)">21</text>
<text class="pn" transform="translate(3035.5,2644) rotate(-90)">1</text><text class="pn" transform="translate(3072.1,2644) rotate(-90)">2</text><text class="pn" transform="translate(3108.7,2644) rotate(-90)">3</text><text class="pn" transform="translate(3145.3,2644) rotate(-90)">4</text><text class="pn" transform="translate(3181.9,2644) rotate(-90)">5</text><text class="pn" transform="translate(3218.5,2644) rotate(-90)">6</text><text class="pn" transform="translate(3255.1,2644) rotate(-90)">7</text><text class="pn" transform="translate(3291.7,2644) rotate(-90)">8</text><text class="pn" transform="translate(3328.3,2644) rotate(-90)">9</text><text class="pn" transform="translate(3364.9,2644) rotate(-90)">10</text><text class="pn" transform="translate(3401.5,2644) rotate(-90)">11</text>
<text class="pn" transform="translate(3438.1,2644) rotate(-90)">12</text><text class="pn" transform="translate(3474.7,2644) rotate(-90)">13</text><text class="pn" transform="translate(3511.3,2644) rotate(-90)">14</text><text class="pn" transform="translate(3547.9,2644) rotate(-90)">15</text><text class="pn" transform="translate(3584.5,2644) rotate(-90)">16</text><text class="pn" transform="translate(3621.1,2644) rotate(-90)">17</text><text class="pn" transform="translate(3657.7,2644) rotate(-90)">18</text><text class="pn" transform="translate(3694.3,2644) rotate(-90)">19</text><text class="pn" transform="translate(3730.9,2644) rotate(-90)">20</text><text class="pn" transform="translate(3767.5,2644) rotate(-90)">21</text>
</g>
</g>
</svg>
